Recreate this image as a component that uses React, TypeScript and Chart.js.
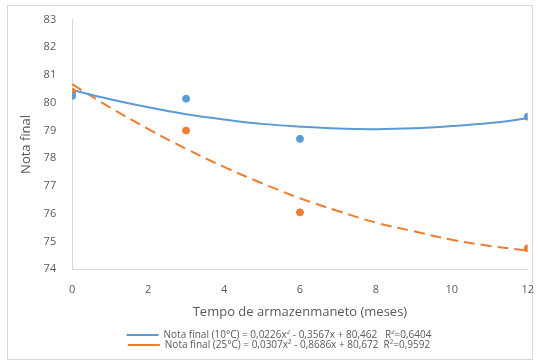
import React, { useEffect, useRef } from "react";
import { Chart, registerables } from "chart.js";

Chart.register(...registerables);

const months = [0, 3, 6, 12];
const nota10 = [80.25, 80.15, 78.7, 79.5];
const nota25 = [80.4, 79.0, 76.05, 74.75];

// trend line readings, one per month
const trendX = [0, 1, 2, 3, 4, 5, 6, 7, 8, 9, 10, 11, 12];
const trend10 = [80.46, 80.13, 79.84, 79.59, 79.4, 79.24, 79.14, 79.07, 79.05, 79.08, 79.16, 79.27, 79.44];
const trend25 = [80.67, 79.83, 79.06, 78.34, 77.69, 77.1, 76.56, 76.1, 75.68, 75.37, 75.06, 74.84, 74.67];

const label10 = "Nota final (10°C) = 0,0226x² - 0,3567x + 80,462   R²=0,6404";
const label25 = "Nota final (25°C) = 0,0307x² - 0,8686x + 80,672  R²=0,9592";

const BLUE = "#5B9BD5";
const ORANGE = "#ED7D31";
const GREY = "#595959";
const FONT = "'Open Sans', 'Liberation Sans', sans-serif";

export default function App() {
  const ref = useRef<HTMLCanvasElement | null>(null);

  useEffect(() => {
    if (!ref.current) return;
    const pts = (xs: number[], ys: number[]) => xs.map((x, i) => ({ x, y: ys[i] }));
    const chart = new Chart(ref.current, {
      type: "scatter",
      data: {
        datasets: [
          {
            label: "pts10",
            data: pts(months, nota10),
            backgroundColor: BLUE,
            borderColor: BLUE,
            pointRadius: 3.5,
            order: 0,
          },
          {
            label: "pts25",
            data: pts(months, nota25),
            backgroundColor: ORANGE,
            borderColor: ORANGE,
            pointRadius: 3.5,
            order: 0,
          },
          {
            label: label10,
            data: pts(trendX, trend10),
            showLine: true,
            borderColor: BLUE,
            backgroundColor: BLUE,
            borderWidth: 2,
            pointRadius: 0,
            tension: 0.4,
            order: 1,
          },
          {
            label: label25,
            data: pts(trendX, trend25),
            showLine: true,
            borderColor: ORANGE,
            backgroundColor: ORANGE,
            borderWidth: 2,
            borderDash: [11, 6],
            pointRadius: 0,
            tension: 0.4,
            order: 1,
          },
        ],
      },
      options: {
        animation: false,
        responsive: true,
        maintainAspectRatio: false,
        layout: { padding: { left: 11, right: 0, top: 10, bottom: 0 } },
        plugins: {
          tooltip: { enabled: false },
          legend: {
            position: "bottom",
            labels: {
              filter: (item) => item.text.startsWith("Nota"),
              usePointStyle: true,
              pointStyle: "line",
              pointStyleWidth: 32,
              boxHeight: 8,
              padding: 0,
              color: GREY,
              font: { family: FONT, size: 10 },
            },
          },
        },
        scales: {
          x: {
            type: "linear",
            min: 0,
            max: 12,
            ticks: { stepSize: 2, color: GREY, font: { family: FONT, size: 11 }, padding: 6 },
            grid: { display: false },
            border: { display: true, color: "#D9D9D9" },
            title: {
              display: true,
              text: "Tempo de armazenmaneto (meses)",
              color: GREY,
              font: { family: FONT, size: 13 },
              padding: { top: 2, bottom: 10 },
            },
          },
          y: {
            min: 74,
            max: 83,
            ticks: { stepSize: 1, color: GREY, font: { family: FONT, size: 11 }, padding: 8 },
            grid: { display: false },
            border: { display: true, color: "#D9D9D9" },
            title: {
              display: true,
              text: "Nota final",
              color: GREY,
              font: { family: FONT, size: 13 },
              padding: { top: 0, bottom: 2 },
            },
          },
        },
      },
    });
    return () => chart.destroy();
  }, []);

  return (
    <div style={{ position: "fixed", left: 0, top: 0, width: 540, height: 363, background: "#fff" }}>
      <div
        style={{
          position: "absolute",
          left: 7,
          top: 5,
          width: 526,
          height: 355,
          border: "1px solid #D9D9D9",
          boxSizing: "border-box",
        }}
      />
      <div style={{ position: "absolute", left: 7, top: 5, width: 533, height: 355 }}>
        <canvas ref={ref} />
      </div>
    </div>
  );
}
